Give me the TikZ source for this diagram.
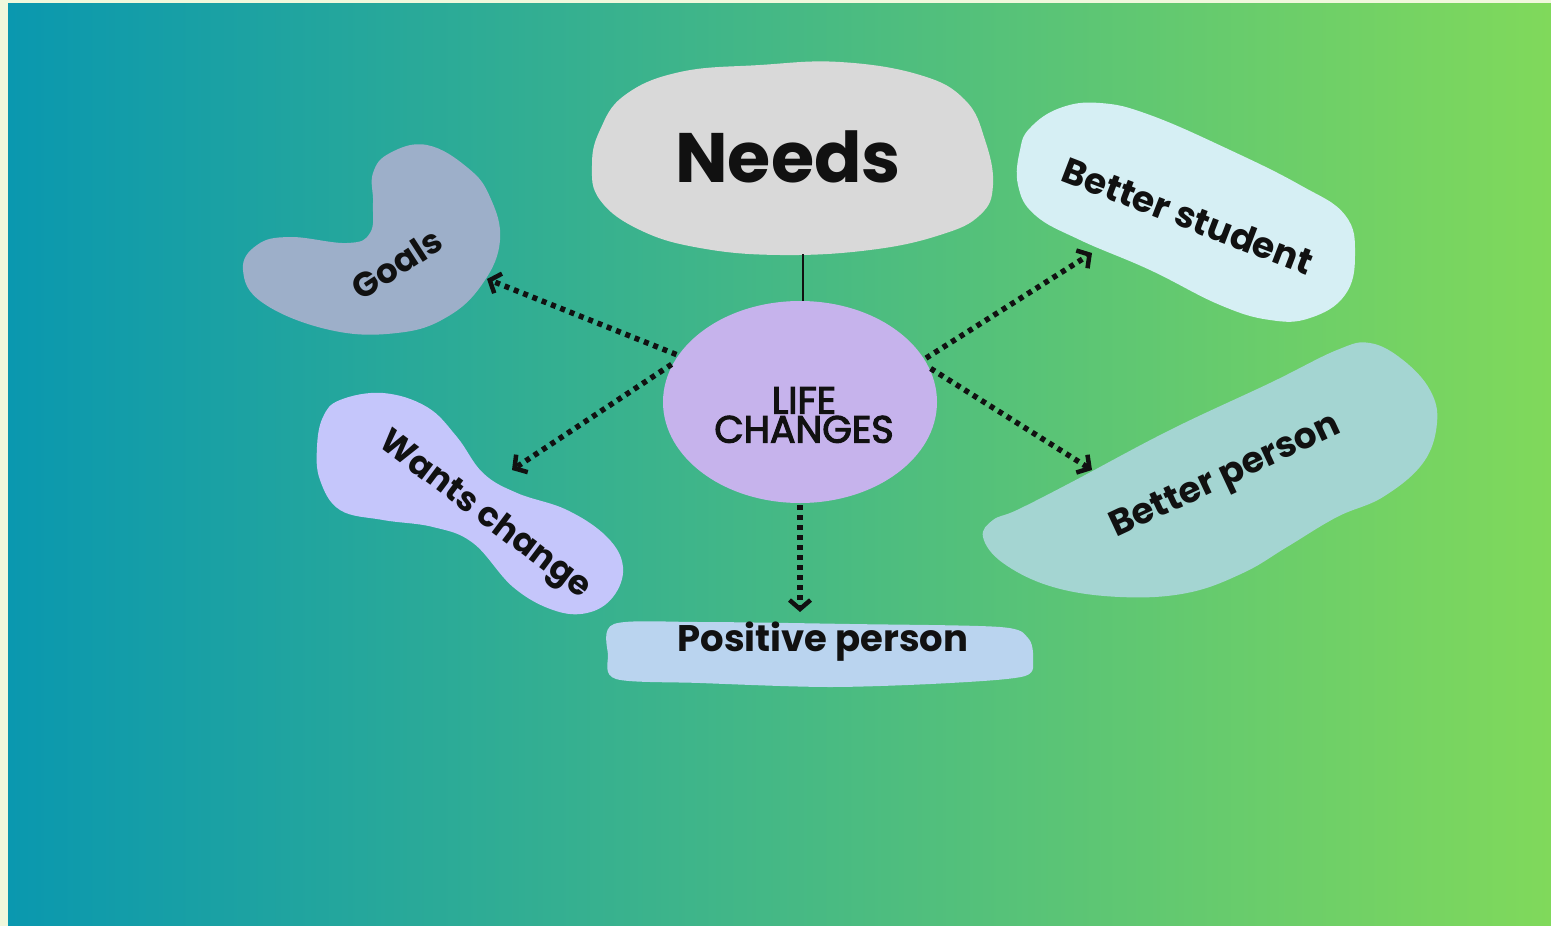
\documentclass[tikz,border=0pt]{standalone}
\usepackage{fontspec}
\setmainfont{Poppins}
\newfontfamily\lifefont{Poppins}[FakeBold=3]
\usetikzlibrary{arrows.meta,shapes.geometric}
\definecolor{cream}{HTML}{F0F8DC}
\definecolor{bgL}{HTML}{0A98AF}
\definecolor{bgR}{HTML}{80D95B}
\definecolor{needsc}{HTML}{D9D9D9}
\definecolor{lifec}{HTML}{C6B3EC}
\definecolor{goalsc}{HTML}{9DAFC9}
\definecolor{wantsc}{HTML}{C5C6FB}
\definecolor{bstudc}{HTML}{D6EFF4}
\definecolor{bpersc}{HTML}{A4D5D2}
\definecolor{posc}{HTML}{BAD4EF}
\definecolor{ink}{HTML}{111111}
\tikzset{
  lbl/.style={text=ink, font=\bfseries\fontsize{#1}{#1}\selectfont, inner sep=0pt},
  arr/.style={draw=ink, line width=5.5pt, dash pattern=on 5pt off 5pt,
    -{Straight Barb[length=9pt,width=21pt,line width=4.5pt]}, shorten <=2pt},
}
\begin{document}
\begin{tikzpicture}[x=1pt,y=-1pt]
\useasboundingbox (0,0) rectangle (1551,926);
\fill[cream] (0,0) rectangle (1551,926);
\shade[left color=bgL, right color=bgR] (8,3) rectangle (1551,926);
% Needs blob
\fill[needsc] plot[smooth cycle, tension=0.7] coordinates {(600,130) (625,95) (680,72) (760,65) (840,62) (920,75) (965,100) (985,140) (993,185) (980,215) (940,235) (870,250) (780,255) (700,248) (640,230) (600,200) (592,165)};
% Goals blob
\fill[goalsc] plot[smooth cycle, tension=0.7] coordinates {(427,145) (468,168) (490,197) (500,240) (483,283) (447,317) (397,333) (330,330) (263,303) (243,270) (257,245) (290,237) (347,243) (370,233) (373,203) (373,173) (390,153)};
% Wants change blob
\fill[wantsc] plot[smooth cycle, tension=0.65] coordinates {(340,400) (383,393) (427,407) (457,437) (483,473) (517,493) (567,510) (607,537) (623,567) (613,597) (587,613) (553,610) (513,587) (473,543) (433,527) (383,520) (340,510) (320,480) (317,447) (323,417)};
% Better student blob
\fill[bstudc] plot[smooth cycle, tension=0.7] coordinates {(1030,128) (1060,108) (1100,103) (1150,115) (1230,150) (1300,185) (1345,215) (1355,255) (1345,295) (1310,318) (1270,320) (1220,305) (1150,270) (1080,240) (1035,215) (1018,185) (1020,150)};
% Better person blob
\fill[bpersc] plot[smooth cycle, tension=0.65] coordinates {(1370,343) (1403,360) (1430,390) (1437,423) (1423,463) (1383,497) (1337,517) (1287,547) (1243,573) (1187,593) (1120,597) (1053,587) (1003,563) (983,537) (993,520) (1017,510) (1070,483) (1170,430) (1270,383) (1337,350)};
% Positive person blob
\fill[posc] plot[smooth cycle, tension=0.5] coordinates {(614,624) (700,622) (850,624) (1000,627) (1028,638) (1033,658) (1025,676) (950,683) (830,687) (700,683) (616,679) (608,655)};
% centre
\node[ellipse, fill=lifec, minimum width=274pt, minimum height=202pt, inner sep=0pt] (lc) at (800,402) {};
\node[text=ink, font=\lifefont\fontsize{38}{29}\selectfont, align=center, inner sep=0pt] (lct) at (804,415) {LIFE\\CHANGES};
% labels
\node[lbl=70] (needs) at (788,157) {Needs};
\node[lbl=34, rotate=33] (goals) at (397,264) {Goals};
\node[lbl=34, rotate=-37] (wants) at (484,516) {Wants change};
\node[lbl=36, rotate=-21] (bstud) at (1188,216) {Better student};
\node[lbl=36, rotate=25] (bpers) at (1226,478) {Better person};
\node[lbl=37, anchor=base] (pos) at (823,651) {Positive person};
% connector ends
\coordinate (needsB) at (803,254);
\coordinate (gA) at (487,279);
\coordinate (wA) at (512,470);
\coordinate (sA) at (1092,253);
\coordinate (pA) at (1092,470);
\coordinate (qA) at (800,612);
\draw[ink, line width=2.4pt] (needsB) -- (needsB |- lc.north);
\draw[arr] (lc.159) -- (gA);
\draw[arr] (lc.163) -- (wA);
\draw[arr] (lc.19) -- (sA);
\draw[arr] (lc.15) -- (pA);
\draw[arr] (lc.south) -- (qA);
\end{tikzpicture}
\end{document}
